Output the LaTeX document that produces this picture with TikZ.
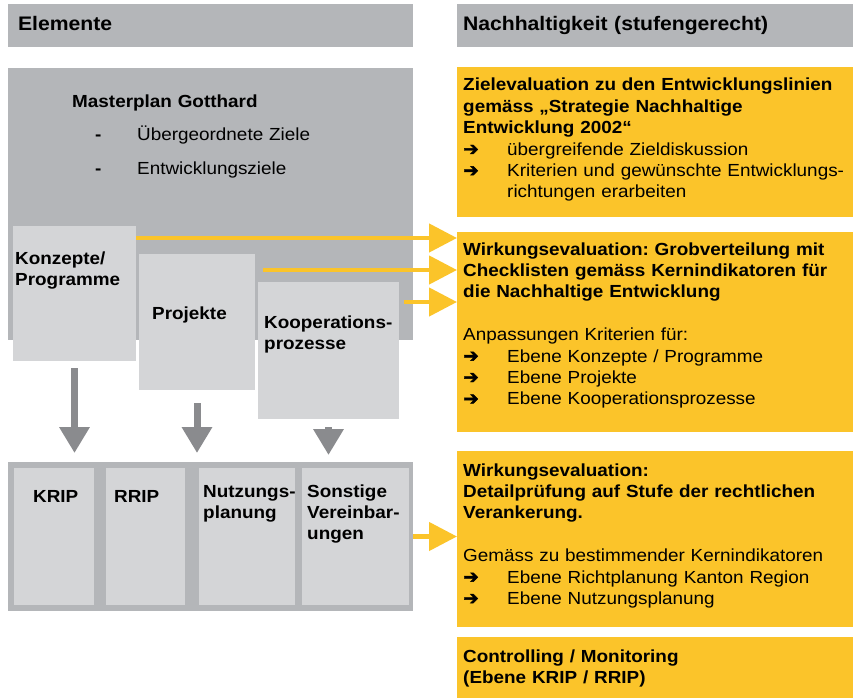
\documentclass[tikz,border=0pt]{standalone}
\usepackage{fontspec}
\setmainfont{Liberation Sans}[FakeStretch=1.08]
\newfontfamily\arrowfont{DejaVu Sans}[FakeBold=2.5]
\usetikzlibrary{arrows.meta,calc}

\definecolor{kopfgrau}{RGB}{180,182,185}
\definecolor{hellgrau}{RGB}{212,213,215}
\definecolor{pfeilgrau}{RGB}{138,139,142}
\definecolor{gelb}{RGB}{251,196,42}

\newcommand{\textsize}{\fontsize{17.5}{21.4}\selectfont}
\newcommand{\kopfsize}{\fontsize{19.6}{23}\selectfont\bfseries}
\newcommand{\pfeil}{\makebox[44pt][l]{\arrowfont\fontsize{18.5}{21.4}\selectfont ➔}}
\frenchspacing

\begin{document}
\begin{tikzpicture}[x=1pt,y=-1pt,
  kasten/.style={rectangle,anchor=north west,inner sep=0pt,outer sep=0pt},
  kopf/.style={kasten,fill=kopfgrau,minimum height=43pt,inner ysep=0pt,
    text height=14pt,text depth=4pt,align=left,font=\kopfsize},
  txt/.style={anchor=base west,inner sep=0pt,text width=420pt,align=left,font=\textsize},
  fett/.style={txt,font=\textsize\bfseries},
  gelbpfeil/.style={draw=gelb,line width=4.5pt,-{Triangle[width=28pt,length=28pt]}},
  grauerpfeil/.style={draw=pfeilgrau,line width=7pt,-{Triangle[width=29pt,length=26pt]}}]
\useasboundingbox[fill=white] (0,0) rectangle (856,698);

% Kopfzeilen
\node[kopf,text width=385pt,inner xsep=10pt] (kopfl) at (8,4) {Elemente};
\node[kopf,text width=384pt,inner xsep=6pt] (kopfr) at (457,4) {Nachhaltigkeit (stufengerecht)};

% Elemente
\node[kasten,fill=kopfgrau,minimum width=405pt,minimum height=272pt] (master) at (8,68) {};
\node[fett] (mtitel) at ($(master.north west)+(64,39)$) {Masterplan Gotthard};
\node[txt] (mziel1) at ($(master.north west)+(87,72)$) {\makebox[42pt][l]{\textbf{-}}Übergeordnete Ziele};
\node[txt] (mziel2) at ($(master.north west)+(87,106)$) {\makebox[42pt][l]{\textbf{-}}Entwicklungsziele};

\node[kasten,fill=hellgrau,minimum width=123pt,minimum height=135pt] (konz) at (13,226) {};
\node[fett] at ($(konz.north west)+(2,38)$) {Konzepte/\\Programme};
\node[kasten,fill=hellgrau,minimum width=116pt,minimum height=136pt] (proj) at (139,254) {};
\node[fett] at ($(proj.north west)+(13,65)$) {Projekte};
\node[kasten,fill=hellgrau,minimum width=141pt,minimum height=137pt] (koop) at (258,282) {};
\node[fett] at ($(koop.north west)+(6,46)$) {Kooperations-\\prozesse};

\node[kasten,fill=kopfgrau,minimum width=405pt,minimum height=149pt] (unten) at (8,462) {};
\node[kasten,fill=hellgrau,minimum width=80pt,minimum height=137pt] (krip) at (14,468) {};
\node[fett] at ($(krip.north west)+(19,34)$) {KRIP};
\node[kasten,fill=hellgrau,minimum width=79pt,minimum height=137pt] (rrip) at (106,468) {};
\node[fett] at ($(rrip.north west)+(8,34)$) {RRIP};
\node[kasten,fill=hellgrau,minimum width=96pt,minimum height=137pt] (nutz) at (199,468) {};
\node[fett] at ($(nutz.north west)+(4,29)$) {Nutzungs-\\planung};
\node[kasten,fill=hellgrau,minimum width=107pt,minimum height=137pt] (sonst) at (302,468) {};
\node[fett] at ($(sonst.north west)+(5,29)$) {Sonstige\\Vereinbar-\\ungen};

% Nachhaltigkeit
\node[kasten,fill=gelb,minimum width=396pt,minimum height=150pt] (ziel) at (457,67) {};
\node[txt] at ($(ziel.north west)+(6,24)$) {\textbf{Zielevaluation zu den Entwicklungslinien}\\
  \textbf{gemäss „Strategie Nachhaltige}\\
  \textbf{Entwicklung 2002“}\\
  \pfeil übergreifende Zieldiskussion\\
  \pfeil Kriterien und gewünschte Entwicklungs-\\
  \hspace*{44pt}richtungen erarbeiten};

\node[kasten,fill=gelb,minimum width=396pt,minimum height=200pt] (wirk) at (457,232) {};
\node[txt] at ($(wirk.north west)+(6,23)$) {\textbf{Wirkungsevaluation: Grobverteilung mit}\\
  \textbf{Checklisten gemäss Kernindikatoren für}\\
  \textbf{die Nachhaltige Entwicklung}\\[21.4pt]
  Anpassungen Kriterien für:\\
  \pfeil Ebene Konzepte / Programme\\
  \pfeil Ebene Projekte\\
  \pfeil Ebene Kooperationsprozesse};

\node[kasten,fill=gelb,minimum width=396pt,minimum height=176pt] (detail) at (457,451) {};
\node[txt] at ($(detail.north west)+(6,25)$) {\textbf{Wirkungsevaluation:}\\
  \textbf{Detailprüfung auf Stufe der rechtlichen}\\
  \textbf{Verankerung.}\\[21.4pt]
  Gemäss zu bestimmender Kernindikatoren\\
  \pfeil Ebene Richtplanung Kanton Region\\
  \pfeil Ebene Nutzungsplanung};

\node[kasten,fill=gelb,minimum width=396pt,minimum height=61pt] (contr) at (457,637) {};
\node[fett] at ($(contr.north west)+(6,25)$) {Controlling / Monitoring\\(Ebene KRIP / RRIP)};

% Pfeile
\draw[gelbpfeil] ($(konz.north east)+(0,12)$) coordinate (g1) -- (g1 -| wirk.west);
\draw[gelbpfeil] ($(proj.north east)+(8,16)$) coordinate (g2) -- (g2 -| wirk.west);
\draw[gelbpfeil] ($(koop.north east)+(5,20)$) coordinate (g3) -- (g3 -| wirk.west);
\draw[gelbpfeil] (unten.east) -- (unten.east -| detail.west);

\draw[grauerpfeil] ($(konz.south)+(0,7)$) -- ($(konz.south |- unten.north)+(0,-9)$);
\draw[grauerpfeil] ($(proj.south)+(0,13)$) -- ($(proj.south |- unten.north)+(0,-9)$);
\draw[grauerpfeil] ($(koop.south)+(0,8)$) -- ($(koop.south |- unten.north)+(0,-7)$);
\end{tikzpicture}
\end{document}
